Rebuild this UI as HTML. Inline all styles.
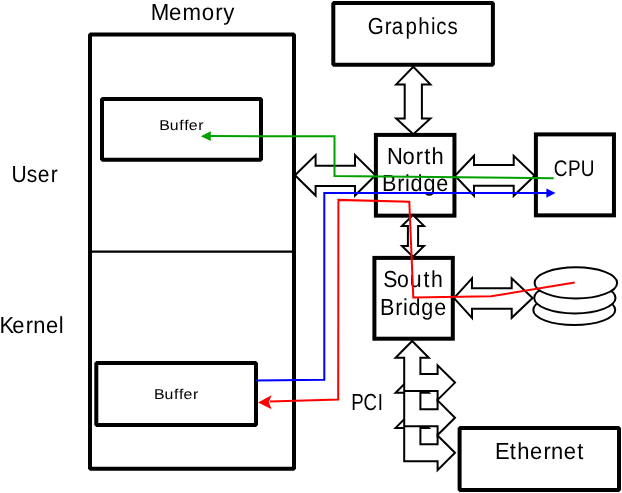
<!DOCTYPE html><html><head><meta charset="utf-8"><style>html,body{margin:0;padding:0;background:#fff;width:622px;height:493px;overflow:hidden}svg{display:block;transform:translateZ(0)}text{font-family:"Liberation Sans",sans-serif;fill:#000;text-rendering:geometricPrecision}</style></head><body>
<svg width="622" height="493" viewBox="0 0 622 493">
<g fill="none" stroke="#000" stroke-width="4">
<rect x="90" y="34.4" width="204" height="434.4" stroke-linejoin="bevel"/>
<rect x="102" y="98.9" width="159" height="60.85" stroke-linejoin="bevel"/>
<rect x="96.3" y="362.9" width="159.7" height="62.1" stroke-linejoin="bevel"/>
<rect x="333.3" y="2.95" width="159.6" height="61.75" stroke-linejoin="bevel"/>
<rect x="375.9" y="134.9" width="78.55" height="80.75" stroke-linejoin="miter"/>
<rect x="535.9" y="134.4" width="78.05" height="80.95" stroke-linejoin="miter"/>
<rect x="374.4" y="257.9" width="78.4" height="80.8" stroke-linejoin="miter"/>
<rect x="459.6" y="428.1" width="159.4" height="61.9" stroke-linejoin="bevel"/>
</g>
<line x1="90" y1="251.6" x2="294" y2="251.6" stroke="#000" stroke-width="2.2"/>
<g fill="#fff" stroke="#000" stroke-width="2" stroke-linejoin="miter" stroke-miterlimit="10">
<polygon points="295.00,175.30 315.60,155.05 315.60,165.70 355.00,165.70 355.00,155.05 375.40,175.30 355.00,195.55 355.00,185.90 315.60,185.90 315.60,195.55" />
<polygon points="455.00,175.80 474.00,155.80 474.00,165.10 513.70,165.10 513.70,155.80 534.60,175.80 513.70,195.80 513.70,185.80 474.00,185.80 474.00,195.80" />
<polygon points="454.00,298.10 472.00,278.35 472.00,288.30 511.70,288.30 511.70,278.35 532.60,298.10 511.70,317.85 511.70,308.80 472.00,308.80 472.00,317.85" />
<polygon points="413.30,66.80 430.40,84.40 421.90,84.40 421.90,118.50 430.40,118.50 413.30,134.20 396.20,118.50 404.70,118.50 404.70,84.40 396.20,84.40" />
<polygon points="413.00,215.00 424.00,225.90 418.10,225.90 418.10,246.00 424.00,246.00 413.00,256.80 402.00,246.00 407.90,246.00 407.90,225.90 402.00,225.90" />
<polygon points="412.20,411.20 428.80,427.90 420.40,427.90 420.40,444.30 437.60,444.30 437.60,435.50 455.00,452.80 437.60,470.10 437.60,461.30 404.20,461.30 404.20,427.90 395.60,427.90" />
<polygon points="412.20,376.10 428.80,392.80 420.40,392.80 420.40,409.20 437.60,409.20 437.60,400.40 455.00,417.70 437.60,435.00 437.60,426.20 404.20,426.20 404.20,392.80 395.60,392.80" />
<polygon points="412.20,341.00 428.80,357.70 420.40,357.70 420.40,374.10 437.60,374.10 437.60,365.30 455.00,382.60 437.60,399.90 437.60,391.10 404.20,391.10 404.20,357.70 395.60,357.70" />
<ellipse cx="574.25" cy="310" rx="40.95" ry="15"/>
<ellipse cx="574.85" cy="298" rx="40.65" ry="15.4"/>
<ellipse cx="575.85" cy="282.9" rx="41.25" ry="15.6"/>
</g>
<text transform="scale(0.9604,1)" x="156.97 176.08 189.94 210.13 224.10 232.54" y="20.00" font-size="23.20">Memory</text>
<text transform="scale(0.8843,1)" x="415.78 435.11 443.03 458.45 472.94 487.35 493.40 506.18" y="34.00" font-size="23.20">Graphics</text>
<text transform="scale(1.1099,1)" x="143.50 152.89 161.50 165.99 170.07 178.55" y="130.00" font-size="14.30">Buffer</text>
<text transform="scale(1.1109,1)" x="138.62 148.01 156.62 161.11 165.20 173.69" y="399.00" font-size="14.30">Buffer</text>
<text transform="scale(0.9061,1)" x="12.64 29.51 41.57 56.14" y="182.00" font-size="23.20">User</text>
<text transform="scale(0.9448,1)" x="-0.52 13.03 27.13 35.13 48.69 62.20" y="333.00" font-size="23.20">Kernel</text>
<text transform="scale(0.9439,1)" x="410.00 426.56 440.55 449.38 457.26" y="164.00" font-size="23.20">North</text>
<text transform="scale(0.9329,1)" x="409.54 425.82 434.21 440.13 453.97 467.76" y="191.00" font-size="23.20">Bridge</text>
<text transform="scale(0.8372,1)" x="661.57 678.57 693.74" y="176.00" font-size="22.70">CPU</text>
<text transform="scale(0.9161,1)" x="418.25 433.44 447.41 462.18 470.57" y="287.00" font-size="23.20">South</text>
<text transform="scale(0.9307,1)" x="408.31 424.59 432.98 438.90 452.74 466.53" y="315.00" font-size="23.20">Bridge</text>
<text transform="scale(0.8046,1)" x="436.45 451.75 469.65" y="410.00" font-size="23.20">PCI</text>
<text transform="scale(0.9461,1)" x="523.09 538.73 546.72 560.31 574.41 582.43 595.98 610.05" y="459.00" font-size="23.20">Ethernet</text>
<g fill="none" stroke-width="2" stroke-linejoin="miter">
<polyline points="210.00,136.10 334.50,136.20 334.50,176.10 553.70,178.20" stroke="#00a000"/>
<polyline points="256.40,380.60 324.30,379.80 324.30,193.00 547.00,193.00" stroke="#00f"/>
<polyline points="270.00,401.60 338.20,399.50 338.40,199.90 409.30,201.80 413.30,297.60 491.20,296.30 574.70,282.40" stroke="#f00"/>
</g>
<polygon points="200.9,136.2 210.8,131.3 210.8,140.9" fill="#00a000"/>
<polygon points="555.5,193 546.4,188.4 546.4,197.8" fill="#00f"/>
<polygon points="258.1,402.5 271.6,395.3 268.8,402 271.6,409.2" fill="#f00"/>
</svg></body></html>
